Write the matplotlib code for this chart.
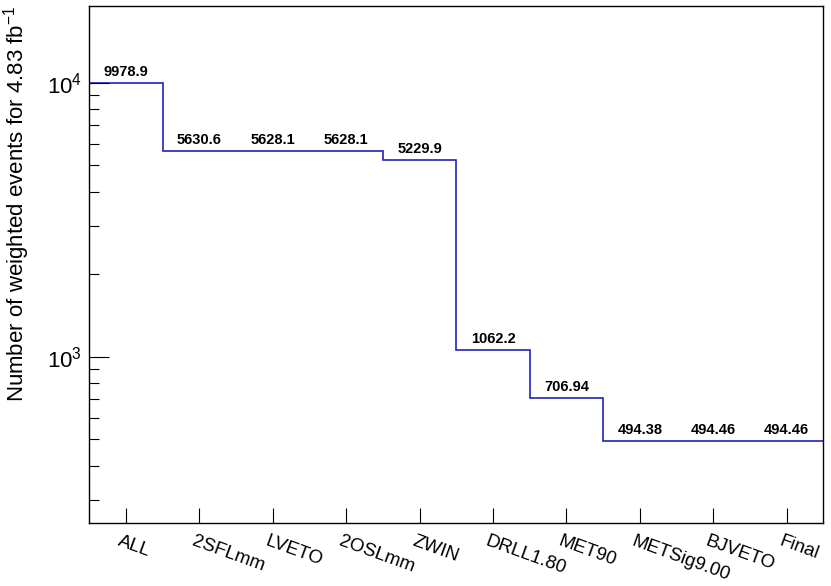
import numpy as np
import matplotlib
matplotlib.use('Agg')
import matplotlib.pyplot as plt
import matplotlib.transforms as mtransforms
from matplotlib.ticker import LogLocator, LogFormatterMathtext, NullFormatter

plt.rcParams['font.family'] = ['Liberation Sans', 'DejaVu Sans']
plt.rcParams['mathtext.fontset'] = 'custom'
plt.rcParams['mathtext.rm'] = 'Liberation Sans'
plt.rcParams['mathtext.it'] = 'Liberation Sans:italic'
plt.rcParams['mathtext.bf'] = 'Liberation Sans:bold'

# cut flow
cuts = ['ALL', '2SFLmm', 'LVETO', '2OSLmm', 'ZWIN', 'DRLL1.80', 'MET90',
        'METSig9.00', 'BJVETO', 'Final']
events = [9978.9, 5630.6, 5628.1, 5628.1, 5229.9, 1062.2, 706.94,
          494.38, 494.46, 494.46]
lumi = '4.83'

fig = plt.figure(figsize=(8.31, 5.86), dpi=100)
ax = fig.add_axes([0.1075, 0.107, 0.8833, 0.8828])

edges = np.arange(len(cuts) + 1)
centers = edges[:-1] + 0.5
ax.stairs(events, edges, baseline=None, color='#2323b8', lw=1.2)

ax.set_xlim(0, len(cuts))
ax.set_yscale('log')
ax.set_ylim(min(events) * 0.5, 19050)

# y axis ticks (inside, left only)
ax.yaxis.set_major_locator(LogLocator(base=10))
ax.yaxis.set_major_formatter(LogFormatterMathtext())
ax.yaxis.set_minor_locator(LogLocator(base=10, subs=np.arange(2, 10)))
ax.yaxis.set_minor_formatter(NullFormatter())
ax.tick_params(axis='y', which='major', direction='in', length=14.4, width=0.8,
               labelsize=16, pad=5.5, right=False)
ax.tick_params(axis='y', which='minor', direction='in', length=7.2, width=0.8,
               right=False)

# x axis: labels at bin centres, rotated
ax.set_xticks(centers)
ax.set_xticklabels(cuts, rotation=-20, ha='left', va='top',
                   rotation_mode='anchor', fontsize=13.5)
ax.tick_params(axis='x', which='both', direction='in', length=10.8, width=0.8,
               top=False, pad=7)
ax.xaxis.set_minor_locator(plt.NullLocator())
shift = mtransforms.ScaledTranslation(-3 / 72, 0, fig.dpi_scale_trans)
for lab in ax.get_xticklabels():
    lab.set_transform(lab.get_transform() + shift)

for s in ax.spines.values():
    s.set_linewidth(1.0)

# bin contents
for x, v in zip(centers, events):
    ax.annotate(f'{v:.5g}', (x, v), xytext=(0, 3), textcoords='offset points',
                ha='center', va='bottom', fontsize=10.5, fontweight='bold')

ax.set_ylabel('Number of weighted events for ' + lumi + ' fb$^{-1}$',
              fontsize=16, loc='top')
ax.yaxis.set_label_coords(-0.078, 1.0)

fig.savefig('out.png', dpi=100)
